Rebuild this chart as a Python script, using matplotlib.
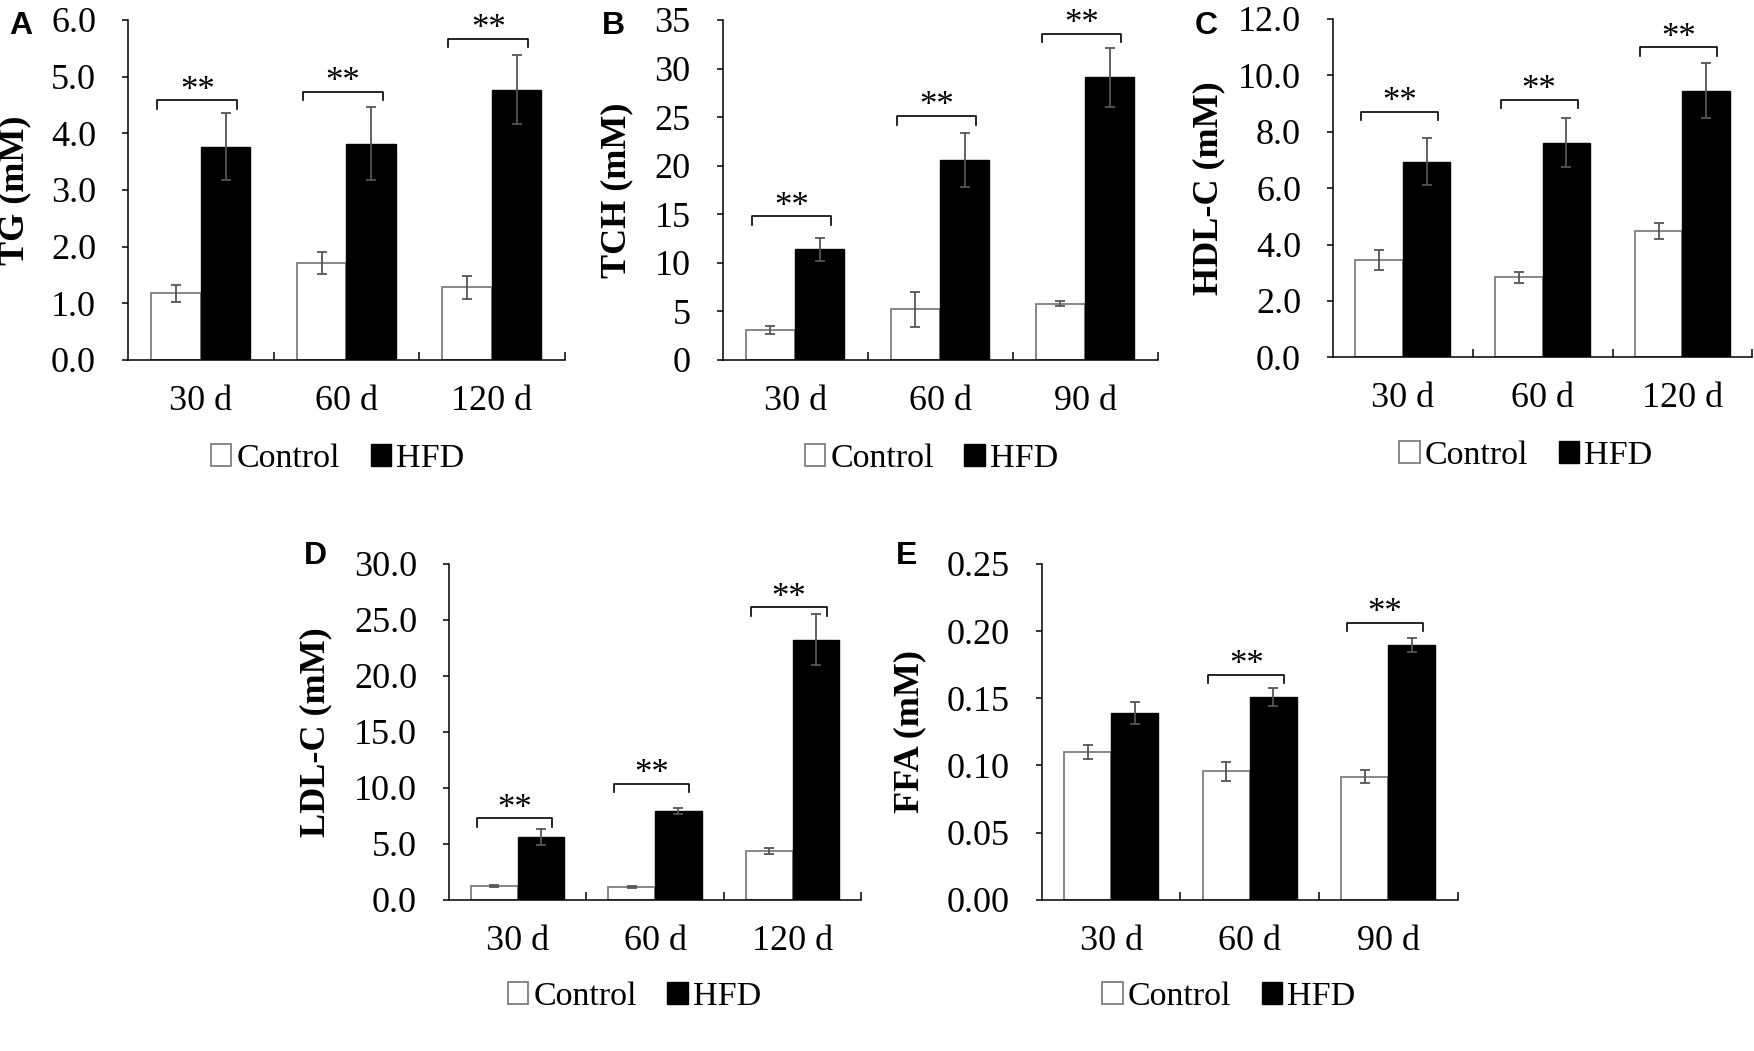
import matplotlib
matplotlib.use("Agg")
import matplotlib.pyplot as plt
from matplotlib.patches import Patch
from matplotlib.ticker import FormatStrFormatter, MultipleLocator

plt.rcParams['font.family'] = ['Liberation Serif', 'DejaVu Serif']

# data
days_a = ['30 d', '60 d', '120 d']
days_b = ['30 d', '60 d', '90 d']

tg_ctrl = [1.18, 1.71, 1.28]
tg_ctrl_err = [0.15, 0.20, 0.21]
tg_hfd = [3.76, 3.82, 4.77]
tg_hfd_err = [0.59, 0.64, 0.61]
tg_sig = [4.58, 4.73, 5.67]

tch_ctrl = [3.1, 5.2, 5.8]
tch_ctrl_err = [0.4, 1.8, 0.28]
tch_hfd = [11.4, 20.6, 29.1]
tch_hfd_err = [1.2, 2.8, 3.05]
tch_sig = [14.8, 25.1, 33.6]

hdl_ctrl = [3.45, 2.84, 4.49]
hdl_ctrl_err = [0.37, 0.19, 0.28]
hdl_hfd = [6.94, 7.61, 9.46]
hdl_hfd_err = [0.84, 0.86, 0.99]
hdl_sig = [8.71, 9.14, 10.99]

ldl_ctrl = [1.2, 1.15, 4.34]
ldl_ctrl_err = [0.1, 0.08, 0.3]
ldl_hfd = [5.62, 7.93, 23.24]
ldl_hfd_err = [0.7, 0.3, 2.3]
ldl_sig = [7.27, 10.38, 26.11]

ffa_ctrl = [0.110, 0.0955, 0.0915]
ffa_ctrl_err = [0.005, 0.0072, 0.0048]
ffa_hfd = [0.139, 0.1508, 0.1894]
ffa_hfd_err = [0.0085, 0.0065, 0.0052]
ffa_sig = [None, 0.1675, 0.2061]

GREY = '#7f7f7f'
ERR = '#555555'

fig = plt.figure(figsize=(17.54, 10.51), dpi=100)


def panel(rect, letter, letter_xy, days, ctrl, ctrl_err, hfd, hfd_err, sig,
          ymax, ystep, fmt, ylabel, ylab_x, leg_x):
    ax = fig.add_axes(rect)
    w = 0.34
    xs = [i + 0.5 for i in range(len(days))]
    xc = [x - w / 2 for x in xs]
    xh = [x + w / 2 for x in xs]
    ax.bar(xc, ctrl, w, color='white', edgecolor=GREY, linewidth=1.3)
    ax.bar(xh, hfd, w, color='black', edgecolor='black', linewidth=1.0)
    ax.errorbar(xc, ctrl, yerr=ctrl_err, fmt='none', ecolor=ERR,
                elinewidth=1.3, capsize=3.5, capthick=1.3)
    ax.errorbar(xh, hfd, yerr=hfd_err, fmt='none', ecolor=ERR,
                elinewidth=1.3, capsize=3.5, capthick=1.3)

    # significance brackets
    dh = 0.025 * ymax
    for x, s in zip(xs, sig):
        if s is None:
            continue
        x0, x1 = x - 0.30, x + 0.25
        ax.plot([x0, x0, x1, x1], [s - dh, s, s, s - dh], color='black',
                lw=1.2, clip_on=False)
        ax.text((x0 + x1) / 2, s + 0.002 * ymax, '**', ha='center',
                va='baseline', fontsize=25)

    ax.set_xlim(0, len(days))
    ax.set_ylim(0, ymax)
    ax.yaxis.set_major_locator(MultipleLocator(ystep))
    ax.yaxis.set_major_formatter(FormatStrFormatter(fmt))
    ax.set_xticks([1, 2, 3])
    ax.set_xticklabels([])
    ax.set_xticks(xs, minor=True)
    ax.set_xticklabels(days, minor=True)
    ax.tick_params(axis='x', which='major', direction='in', length=6,
                   width=1.1)
    ax.tick_params(axis='x', which='minor', length=0, pad=18, labelsize=26)
    ax.tick_params(axis='y', direction='out', length=4, width=1.1, pad=19,
                   labelsize=26)
    for sp in ['top', 'right']:
        ax.spines[sp].set_visible(False)
    for sp in ['left', 'bottom']:
        ax.spines[sp].set_linewidth(1.1)

    ax.set_ylabel(ylabel, fontsize=26, fontweight='bold')
    ax.yaxis.set_label_coords(ylab_x, 0.5)

    handles = [Patch(facecolor='white', edgecolor=GREY, linewidth=1.3),
               Patch(facecolor='black', edgecolor='black')]
    ax.legend(handles, ['Control', 'HFD'], loc='center',
              bbox_to_anchor=(leg_x, -0.29), ncol=2, frameon=False,
              fontsize=24.5, handlelength=0.6, handleheight=0.6,
              handletextpad=0.15, columnspacing=0.9, borderpad=0)

    fig.text(letter_xy[0], letter_xy[1], letter, ha='left', va='top',
             fontsize=23, fontweight='bold', family='Liberation Sans')
    return ax


panel([0.073, 0.6575, 0.249, 0.3235], 'A', (0.005, 0.99), days_a,
      tg_ctrl, tg_ctrl_err, tg_hfd, tg_hfd_err, tg_sig,
      6.0, 1.0, '%.1f', 'TG (mM)', -0.222, 0.48)
panel([0.412, 0.6575, 0.248, 0.3235], 'B', (0.343, 0.99), days_b,
      tch_ctrl, tch_ctrl_err, tch_hfd, tch_hfd_err, tch_sig,
      35, 5, '%d', 'TCH (mM)', -0.205, 0.48)
panel([0.760, 0.660, 0.239, 0.322], 'C', (0.681, 0.99), days_a,
      hdl_ctrl, hdl_ctrl_err, hdl_hfd, hdl_hfd_err, hdl_sig,
      12.0, 2.0, '%.1f', 'HDL-C (mM)', -0.258, 0.46)
panel([0.256, 0.144, 0.235, 0.3194], 'D', (0.173, 0.485), days_a,
      ldl_ctrl, ldl_ctrl_err, ldl_hfd, ldl_hfd_err, ldl_sig,
      30.0, 5.0, '%.1f', 'LDL-C (mM)', -0.283, 0.45)
panel([0.594, 0.144, 0.237, 0.3194], 'E', (0.511, 0.485), days_b,
      ffa_ctrl, ffa_ctrl_err, ffa_hfd, ffa_hfd_err, ffa_sig,
      0.25, 0.05, '%.2f', 'FFA (mM)', -0.278, 0.45)

fig.savefig('out.png', dpi=100, facecolor='white')
